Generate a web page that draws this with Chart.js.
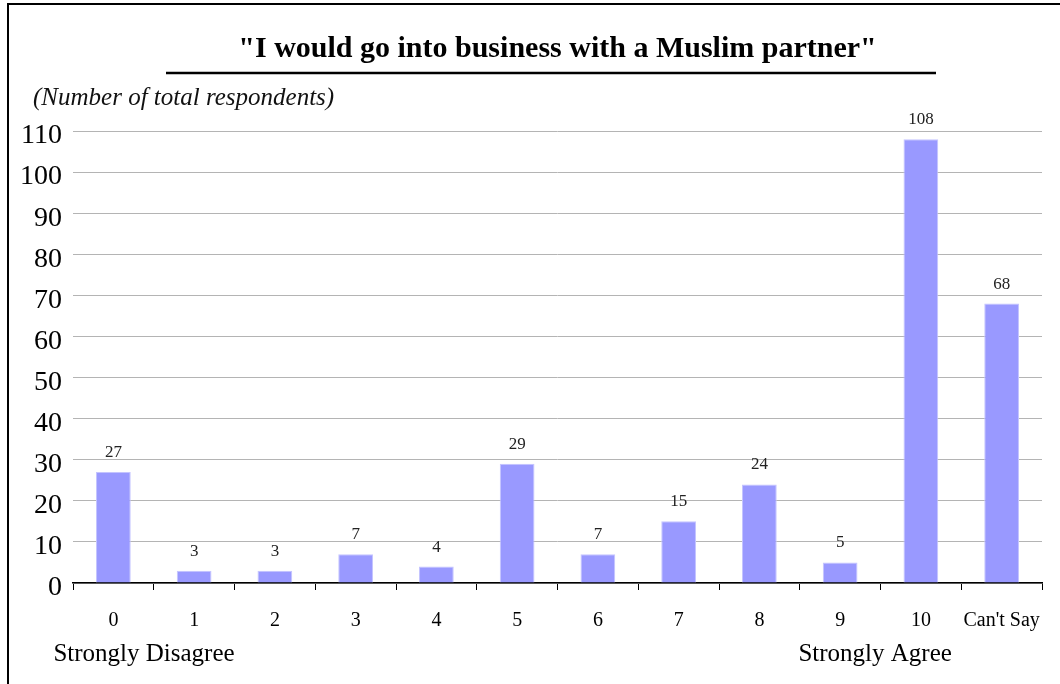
<!DOCTYPE html>
<html>
<head>
<meta charset="utf-8">
<script src="https://cdn.jsdelivr.net/npm/chart.js@4.4.1/dist/chart.umd.min.js"></script>
<style>
  html, body { margin: 0; padding: 0; background: #fff; }
  #wrap { position: relative; width: 1060px; height: 684px; overflow: hidden; }
  #frame { position: absolute; left: 7px; top: 3px; width: 1100px; height: 800px; border-left: 2px solid #000; border-top: 2px solid #000; pointer-events: none; }
  canvas { position: absolute; left: 0; top: 0; }
</style>
</head>
<body>
<div id="wrap">
  <canvas id="c" width="1060" height="684"></canvas>
  <div id="frame"></div>
</div>
<script>
const categories = ["0", "1", "2", "3", "4", "5", "6", "7", "8", "9", "10", "Can't Say"];
const respondents = [27, 3, 3, 7, 4, 29, 7, 15, 24, 5, 108, 68];
const yTicks = [0, 10, 20, 30, 40, 50, 60, 70, 80, 90, 100, 110];
const titleText = '"I would go into business with a Muslim partner"';
const subtitleText = '(Number of total respondents)';
const leftEndLabel = 'Strongly Disagree';
const rightEndLabel = 'Strongly Agree';

const SERIF = '"Liberation Serif", "Times New Roman", serif';

const decorPlugin = {
  id: 'decor',
  afterDraw(chart) {
    const ctx = chart.ctx;
    const area = chart.chartArea;
    const xs = chart.scales.x;
    ctx.save();
    // title
    ctx.fillStyle = '#000';
    ctx.font = 'bold 30px ' + SERIF;
    ctx.textAlign = 'center';
    ctx.textBaseline = 'alphabetic';
    ctx.fillText(titleText, (area.left + area.right) / 2, 57);
    // underline
    ctx.strokeStyle = '#000';
    ctx.lineWidth = 2.5;
    ctx.beginPath();
    ctx.moveTo(166, 73);
    ctx.lineTo(936, 73);
    ctx.stroke();
    // subtitle
    ctx.font = 'italic 25px ' + SERIF;
    ctx.textAlign = 'left';
    ctx.fillStyle = '#111';
    ctx.fillText(subtitleText, 33, 105);
    // end labels
    ctx.font = '25px ' + SERIF;
    ctx.fillStyle = '#000';
    ctx.textAlign = 'left';
    ctx.fillText(leftEndLabel, xs.getPixelForValue(0) - 60, 661);
    ctx.textAlign = 'right';
    ctx.fillText(rightEndLabel, xs.getPixelForValue(10) + 31, 661);
    // data labels
    const meta = chart.getDatasetMeta(0);
    ctx.font = '17px ' + SERIF;
    ctx.fillStyle = '#222';
    ctx.textAlign = 'center';
    ctx.textBaseline = 'alphabetic';
    meta.data.forEach((bar, i) => {
      ctx.fillText(String(respondents[i]), bar.x, bar.y - 15);
    });
    ctx.restore();
  }
};

new Chart(document.getElementById('c'), {
  type: 'bar',
  data: {
    labels: categories,
    datasets: [{
      data: respondents,
      backgroundColor: '#9999ff',
      borderColor: '#c4c4ff',
      borderWidth: 1,
      barPercentage: 0.43,
      categoryPercentage: 1.0
    }]
  },
  options: {
    responsive: false,
    animation: false,
    layout: { padding: { top: 131, right: 18, left: 0, bottom: 0 } },
    plugins: {
      legend: { display: false },
      title: { display: false },
      tooltip: { enabled: false }
    },
    scales: {
      x: {
        grid: {
          display: true,
          drawOnChartArea: false,
          drawTicks: true,
          tickLength: 7,
          color: '#000',
          lineWidth: 1
        },
        border: { display: true, color: '#000', width: 1.5 },
        ticks: {
          color: '#000',
          font: { family: SERIF, size: 20 },
          padding: 19,
          maxRotation: 0,
          autoSkip: false
        },
        afterFit(scale) { scale.height = 101; }
      },
      y: {
        min: 0,
        max: 110,
        afterBuildTicks(scale) { scale.ticks = yTicks.map(v => ({ value: v })); },
        grid: {
          color: '#b4b4b4',
          lineWidth: 1,
          drawTicks: false
        },
        border: { display: false },
        ticks: {
          color: '#000',
          font: { family: SERIF, size: 28 },
          padding: 11,
          labelOffset: 5
        },
        afterFit(scale) { scale.width = 73; }
      }
    }
  },
  plugins: [decorPlugin]
});
</script>
</body>
</html>
